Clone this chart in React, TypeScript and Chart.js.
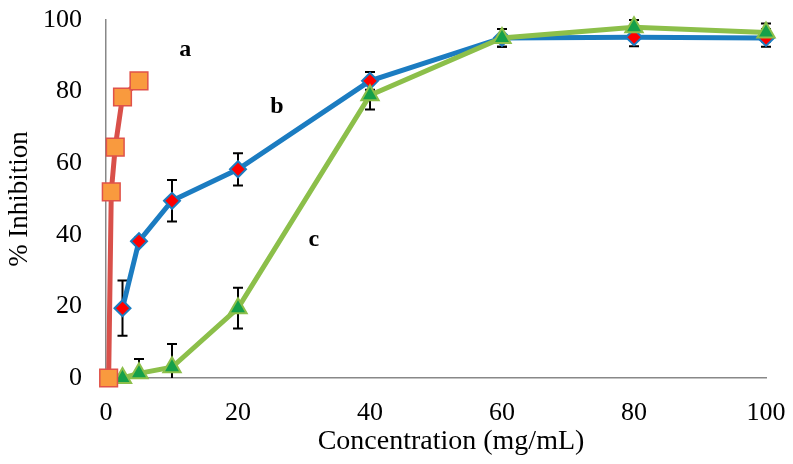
import React, { useEffect, useRef } from "react";
import { Chart, registerables } from "chart.js";

Chart.register(...registerables);

const aX = [0.4, 0.8, 1.4, 2.5, 5];
const aY = [0, 52, 64.5, 78.5, 83];

const bX = [2.5, 5, 10, 20, 40, 60, 80, 100];
const bY = [19.5, 38.2, 49.5, 58.3, 83, 95, 95.2, 95];
const bErr = [7.7, 1, 5.8, 4.5, 2.5, 2.5, 2.5, 2.5];

const cX = [2.5, 5, 10, 20, 40, 60, 80, 100];
const cY = [0, 1.3, 3, 19.5, 79, 95, 98, 96.5];
const cErr = [0, 4, 6.5, 5.7, 4, 2.5, 2, 2.5];

const xTicks = [0, 20, 40, 60, 80, 100];
const yTicks = [0, 20, 40, 60, 80, 100];

const xTitle = "Concentration (mg/mL)";
const yTitle = "% Inhibition";

const labelTexts = ["a", "b", "c"];
const labelX = [12, 25.9, 31.5];
const labelY = [91.6, 75.7, 38.5];

const FAMILY = "'Liberation Serif', 'Times New Roman', serif";

const toPts = (xs: number[], ys: number[]) => xs.map((x, i) => ({ x, y: ys[i] }));

const errorBarPlugin = {
  id: "errorBars",
  beforeDatasetsDraw(chart: any) {
    const { ctx, chartArea } = chart;
    const xs = chart.scales.x;
    const ys = chart.scales.y;
    const sets = [
      { xv: bX, yv: bY, ev: bErr },
      { xv: cX, yv: cY, ev: cErr },
    ];
    ctx.save();
    ctx.beginPath();
    ctx.rect(0, 0, chart.width, chartArea.bottom);
    ctx.clip();
    ctx.strokeStyle = "#000000";
    ctx.lineWidth = 2;
    sets.forEach(({ xv, yv, ev }) => {
      xv.forEach((x, i) => {
        if (!ev[i]) return;
        const px = xs.getPixelForValue(x);
        const top = ys.getPixelForValue(yv[i] + ev[i]);
        const bot = ys.getPixelForValue(yv[i] - ev[i]);
        ctx.beginPath();
        ctx.moveTo(px, top);
        ctx.lineTo(px, bot);
        ctx.moveTo(px - 5, top);
        ctx.lineTo(px + 5, top);
        ctx.moveTo(px - 5, bot);
        ctx.lineTo(px + 5, bot);
        ctx.stroke();
      });
    });
    ctx.restore();
  },
};

const textLabelPlugin = {
  id: "textLabels",
  afterDatasetsDraw(chart: any) {
    const { ctx, chartArea } = chart;
    const xs = chart.scales.x;
    const ys = chart.scales.y;
    ctx.save();
    ctx.fillStyle = "#000000";
    ctx.font = `bold 24px ${FAMILY}`;
    ctx.textAlign = "center";
    ctx.textBaseline = "middle";
    labelTexts.forEach((t, i) => {
      ctx.fillText(t, xs.getPixelForValue(labelX[i]), ys.getPixelForValue(labelY[i]));
    });
    ctx.font = `28px ${FAMILY}`;
    ctx.fillText(xTitle, (chartArea.left + chartArea.right) / 2 + 15, 442);
    ctx.restore();
  },
};

export default function App() {
  const ref = useRef<HTMLCanvasElement | null>(null);

  useEffect(() => {
    if (!ref.current) return;
    const font = { family: FAMILY, size: 26 };
    const chart = new Chart(ref.current, {
      type: "line",
      data: {
        datasets: [
          {
            label: "a",
            data: toPts(aX, aY),
            borderColor: "#D9504A",
            borderWidth: 5,
            pointStyle: "rect",
            pointRadius: 12.5,
            pointBackgroundColor: "#F99A3E",
            pointBorderColor: "#E0524A",
            pointBorderWidth: 1.5,
            clip: false as any,
            order: 1,
          },
          {
            label: "c",
            data: toPts(cX, cY),
            borderColor: "#8CBF4A",
            borderWidth: 5,
            pointStyle: "triangle",
            pointRadius: 10,
            pointBackgroundColor: "#15A04A",
            pointBorderColor: "#8CBF4A",
            pointBorderWidth: 2,
            clip: false as any,
            order: 2,
          },
          {
            label: "b",
            data: toPts(bX, bY),
            borderColor: "#1B7CC1",
            borderWidth: 5,
            pointStyle: "rectRot",
            pointRadius: 8,
            pointBackgroundColor: "#FF0000",
            pointBorderColor: "#1B7CC1",
            pointBorderWidth: 2,
            clip: false as any,
            order: 3,
          },
        ],
      },
      options: {
        animation: false,
        responsive: false,
        maintainAspectRatio: false,
        layout: { padding: { top: 20, right: 27, left: 0, bottom: 0 } },
        plugins: { legend: { display: false }, tooltip: { enabled: false } },
        scales: {
          x: {
            type: "linear",
            min: 0,
            max: 100,
            afterBuildTicks: (s: any) => {
              s.ticks = xTicks.map((v) => ({ value: v }));
            },
            afterFit: (s: any) => {
              s.height = 86;
              s.paddingLeft = 0;
              s.paddingRight = 0;
            },
            grid: { display: false, drawTicks: false },
            border: { display: true, color: "#888888", width: 1.5 },
            ticks: { color: "#000", font, padding: 20, maxRotation: 0 },
            title: { display: false, text: xTitle },
          },
          y: {
            type: "linear",
            min: 0,
            max: 100,
            afterBuildTicks: (s: any) => {
              s.ticks = yTicks.map((v) => ({ value: v }));
            },
            afterFit: (s: any) => {
              s.width = 106;
              s.paddingTop = 0;
              s.paddingBottom = 0;
            },
            grid: { display: false, drawTicks: false },
            border: { display: true, color: "#888888", width: 1.5 },
            ticks: { color: "#000", font, padding: 24 },
            title: {
              display: true,
              text: yTitle,
              color: "#000",
              font: { family: FAMILY, size: 27 },
              padding: { top: 4, bottom: 0 },
            },
          },
        },
      },
      plugins: [errorBarPlugin, textLabelPlugin],
    });
    return () => chart.destroy();
  }, []);

  return (
    <div style={{ position: "fixed", left: 0, top: 0, width: 793, height: 464, background: "#fff" }}>
      <canvas ref={ref} width={793} height={464} style={{ width: 793, height: 464 }} />
    </div>
  );
}
